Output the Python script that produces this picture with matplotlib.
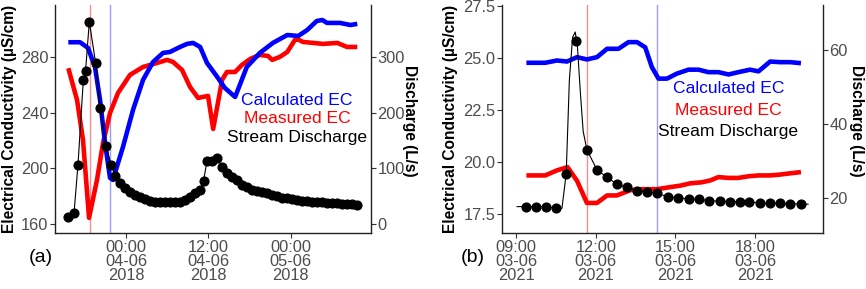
import matplotlib
matplotlib.use("Agg")
import matplotlib.pyplot as plt
import matplotlib.dates as mdates
import matplotlib.ticker as mticker
import pandas as pd

plt.rcParams['font.family'] = ['Liberation Sans', 'DejaVu Sans']

# ---------------- Panel (a) data (hours relative to 2018-06-04 00:00) ----------------
a_origin = pd.Timestamp('2018-06-04 00:00')
a_q_hours = [-8.41, -7.58, -7.00, -6.22, -5.90, -5.35, -4.42, -3.79, -2.92, -2.19,
             -1.60, -0.87, -0.15, 0.58, 1.31, 2.04, 2.77, 3.50, 4.23, 4.96,
             5.69, 6.41, 7.14, 7.87, 8.60, 9.33, 10.06, 10.79, 11.30, 11.81,
             12.54, 13.27, 13.99, 14.72, 15.45, 16.18, 16.91, 17.64, 18.37, 19.10,
             19.83, 20.55, 21.28, 22.01, 22.74, 23.47, 24.20, 24.93, 25.66, 26.38,
             27.11, 27.84, 28.57, 29.30, 30.03, 30.76, 31.49, 32.22, 32.94, 33.67]
a_q = [12.3, 19, 107, 259, 275, 364, 289, 209, 141, 107,
       87, 74, 65.5, 58, 53, 48.5, 45, 42, 40, 39,
       38.7, 38.7, 38.7, 40, 44, 49, 56.6, 62, 78, 114,
       114, 119, 103, 92, 84, 79, 71, 66, 61, 59,
       57, 55, 53, 50, 47.5, 46, 44.5, 43.5, 42, 40.5,
       40, 39.5, 39, 38, 37.5, 37, 36.5, 36, 35.5, 35]
a_calc_hours = [-8.41, -6.70, -5.54, -4.52, -3.79, -3.06, -2.33, -1.90, -1.60, -0.44,
                1.02, 2.48, 3.94, 5.39, 6.41, 7.87, 8.89, 9.77, 10.80, 11.80,
                13.40, 14.40, 15.90, 17.60, 19.50, 21.40, 23.50, 25.10, 26.40, 27.80,
                28.60, 29.30, 31.20, 32.70, 33.70]
a_calc = [290.8, 290.8, 286.7, 273.0, 249.3, 218.3, 193.2, 191.7, 196.8, 215.5,
          242.1, 263.7, 276.6, 283.1, 283.8, 287.4, 289.6, 290.3, 287.4, 275.9,
          265.1, 257.9, 251.4, 273.0, 283.1, 290.3, 296.0, 295.3, 299.6, 306.1,
          306.8, 304.7, 304.7, 303.2, 304.0]
a_meas_hours = [-8.41, -7.14, -6.27, -5.39, -4.23, -3.35, -2.33, -1.17, 0.58, 2.48,
                4.52, 5.98, 6.85, 8.16, 9.33, 10.50, 11.95, 12.70, 14.00, 14.70,
                15.90, 16.90, 18.10, 19.50, 20.70, 21.30, 22.40, 23.50, 24.60, 24.90,
                25.80, 27.30, 28.70, 30.80, 32.20, 33.70]
a_meas = [272.1, 249.3, 220.5, 164.4, 191.7, 218.3, 239.9, 254.3, 267.3, 273.0,
          275.9, 278.1, 276.6, 270.9, 258.6, 250.7, 252.2, 228.4, 263.7, 269.4,
          269.4, 274.5, 278.8, 281.7, 280.9, 278.1, 280.2, 283.8, 292.4, 293.2,
          291.0, 290.3, 289.6, 290.3, 287.4, 287.4]
a_vline_meas = -5.25
a_vline_calc = -2.33
a_xticks_hours = [0, 12, 24]
a_ec_ticks = [160, 200, 240, 280]
a_q_ticks = [0, 100, 200, 300]

# ---------------- Panel (b) data (hours of 2021-06-03) ----------------
b_origin = pd.Timestamp('2021-06-03 00:00')
b_q_hours = [9.38, 9.75, 10.13, 10.51, 10.88, 11.26, 11.66, 12.04, 12.42, 12.79,
             13.17, 13.56, 13.93, 14.31, 14.72, 15.10, 15.50, 15.89, 16.27, 16.66,
             17.04, 17.42, 17.79, 18.17, 18.57, 18.94, 19.32, 19.73]
b_q = [17.55, 17.55, 17.55, 17.1, 26.45, 62.6, 33.0, 27.55, 25.5, 23.65,
       22.8, 21.9, 21.5, 21.3, 20.1, 20.0, 19.6, 19.6, 19.1, 19.1,
       18.9, 18.9, 18.9, 18.5, 18.5, 18.5, 18.3, 18.3]
b_line_hours = [9.03, 9.38, 9.75, 10.13, 10.51, 10.72, 10.88, 11.00, 11.12, 11.22,
                11.30, 11.41, 11.52, 11.66, 12.04, 12.42, 12.79, 13.17, 13.56, 13.93,
                14.31, 14.72, 15.10, 15.50, 15.89, 16.27, 16.66, 17.04, 17.42, 17.79,
                18.17, 18.57, 18.94, 19.32, 19.73, 20.00]
b_line_q = [17.55, 17.55, 17.55, 17.55, 17.1, 17.1, 26.45, 52.0, 63.5, 65.0,
            61.5, 49.0, 38.0, 33.0, 27.55, 25.5, 23.65, 22.8, 21.9, 21.5,
            21.3, 20.1, 20.0, 19.6, 19.6, 19.1, 19.1, 18.9, 18.9, 18.9,
            18.5, 18.5, 18.5, 18.3, 18.3, 18.2]
b_calc_hours = [9.38, 10.09, 10.53, 10.91, 11.29, 11.66, 12.04, 12.42, 12.85, 13.23,
                13.55, 13.86, 14.11, 14.36, 14.68, 15.05, 15.49, 15.87, 16.24, 16.62,
                17.00, 17.37, 17.81, 18.13, 18.57, 18.94, 19.32, 19.73]
b_calc = [24.76, 24.76, 24.87, 24.82, 25.03, 24.92, 25.03, 25.43, 25.43, 25.75,
          25.75, 25.50, 24.55, 24.00, 24.00, 24.24, 24.43, 24.43, 24.31, 24.31,
          24.20, 24.31, 24.43, 24.35, 24.82, 24.79, 24.79, 24.74]
b_meas_hours = [9.38, 10.09, 10.53, 10.93, 11.29, 11.66, 12.04, 12.42, 12.79, 13.29,
                13.67, 14.30, 14.80, 15.18, 15.55, 15.99, 16.31, 16.62, 17.00, 17.37,
                17.75, 18.13, 18.57, 18.94, 19.32, 19.73]
b_meas = [19.36, 19.36, 19.60, 19.76, 19.10, 18.04, 18.04, 18.40, 18.40, 18.65,
          18.70, 18.70, 18.80, 18.87, 18.98, 19.03, 19.12, 19.28, 19.24, 19.24,
          19.32, 19.36, 19.36, 19.40, 19.46, 19.52]
b_vline_meas = 11.65
b_vline_calc = 14.30
b_xticks_hours = [9, 12, 15, 18]
b_ec_ticks = [17.5, 20.0, 22.5, 25.0, 27.5]
b_q_ticks = [20, 40, 60]

legend_labels = ["Calculated EC", "Measured EC", "Stream Discharge"]
legend_colors = ["#0000FF", "#FF0000", "#000000"]

W, H = 866, 289
fig = plt.figure(figsize=(W / 100, H / 100), dpi=100)

TICKCOL = '#4D4D4D'


def to_time(origin, hours):
    return origin + pd.to_timedelta(hours, unit='h')


def make_panel(rect_px, origin, xlim_h, ec_lim, q_lim, q_hours, q_vals, line_hours, line_vals,
               calc_h, calc, meas_h, meas, vmeas, vcalc, xt_h, ec_ticks, q_ticks, ec_fmt,
               leg_xy, leg_dy, panel_lbl, panel_lbl_xy, ylab_x, y2lab_x):
    x0, x1, ytop, ybot = rect_px
    ax = fig.add_axes([x0 / W, 1 - ybot / H, (x1 - x0) / W, (ybot - ytop) / H])
    ax2 = ax.twinx()
    ax.set_xlim(to_time(origin, xlim_h[0]), to_time(origin, xlim_h[1]))
    ax.set_ylim(*ec_lim)
    ax2.set_ylim(*q_lim)

    ax.axvline(to_time(origin, vmeas), color='#FF8C8C', lw=1.0, zorder=1)
    ax.axvline(to_time(origin, vcalc), color='#9C9CFF', lw=1.0, zorder=1)
    ax.plot(to_time(origin, meas_h), meas, color='#FF0000', lw=3.3, solid_joinstyle='round',
            solid_capstyle='butt', zorder=2)
    ax.plot(to_time(origin, calc_h), calc, color='#0000FF', lw=3.3, solid_joinstyle='round',
            solid_capstyle='butt', zorder=3)
    ax2.plot(to_time(origin, line_hours), line_vals, color='black', lw=0.8, zorder=3)
    ax2.plot(to_time(origin, q_hours), q_vals, 'o', color='black', ms=6.3, zorder=4)

    ax.set_xticks([to_time(origin, h) for h in xt_h])
    ax.xaxis.set_major_formatter(mdates.DateFormatter('%H:%M\n%d-%m\n%Y'))
    ax.set_yticks(ec_ticks)
    ax.yaxis.set_major_formatter(mticker.FormatStrFormatter(ec_fmt))
    ax2.set_yticks(q_ticks)

    for a in (ax, ax2):
        a.tick_params(axis='both', direction='out', length=3.5, width=0.8, color='#333333',
                      labelcolor=TICKCOL, labelsize=11.8, pad=1.2)
        a.spines['top'].set_visible(False)
        for s in a.spines.values():
            s.set_linewidth(1.0)
            s.set_color('#222222')
    ax.spines['right'].set_visible(False)
    ax2.spines['left'].set_visible(False)
    ax2.spines['bottom'].set_visible(False)
    for lbl in ax.get_xticklabels():
        lbl.set_linespacing(0.92)

    for i, (t, c) in enumerate(zip(legend_labels, legend_colors)):
        ax.text(leg_xy[0], leg_xy[1] - i * leg_dy, t, color=c, fontsize=12.6,
                ha='center', va='center', transform=ax.transAxes, zorder=6)

    fig.text(panel_lbl_xy[0] / W, 1 - panel_lbl_xy[1] / H, panel_lbl, fontsize=14,
             ha='center', va='center', color='black')
    fig.text(ylab_x / W, 1 - 119 / H, 'Electrical Conductivity (µS/cm)', rotation=90,
             fontsize=11.2, fontweight='bold', ha='center', va='center')
    fig.text(y2lab_x / W, 1 - 121 / H, 'Discharge (L/s)', rotation=-90,
             fontsize=11.2, fontweight='bold', ha='center', va='center')
    return ax, ax2


make_panel((55, 371, 5, 233), a_origin, (-10.35, 35.7), (153.5, 317.6), (-16.25, 394.0),
           a_q_hours, a_q, a_q_hours, a_q, a_calc_hours, a_calc, a_meas_hours, a_meas,
           a_vline_meas, a_vline_calc, a_xticks_hours, a_ec_ticks, a_q_ticks, '%d',
           (0.766, 0.583), 0.081, '(a)', (41, 258), 10, 410)

make_panel((502, 822.7, 5, 233), b_origin, (8.46, 20.55), (16.6, 27.53), (10.38, 72.35),
           b_q_hours, b_q, b_line_hours, b_line_q, b_calc_hours, b_calc, b_meas_hours, b_meas,
           b_vline_meas, b_vline_calc, b_xticks_hours, b_ec_ticks, b_q_ticks, '%.1f',
           (0.706, 0.632), 0.094, '(b)', (473, 258), 450, 856.7)

fig.savefig('out.png', dpi=100)
